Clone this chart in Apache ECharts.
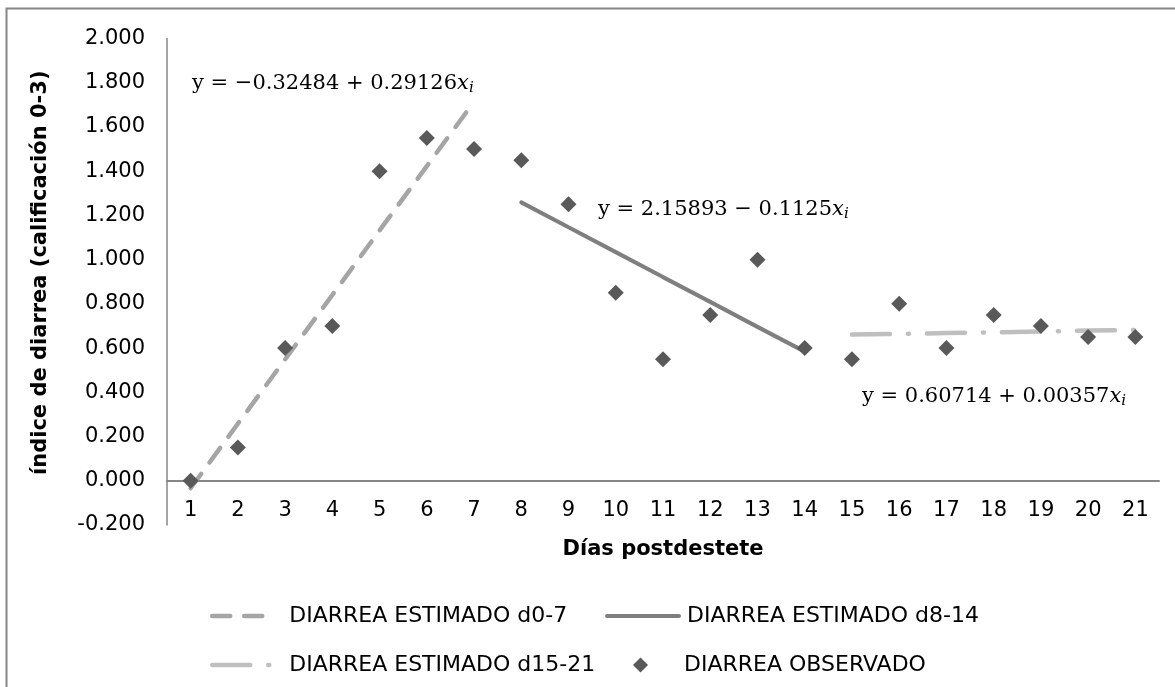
<!DOCTYPE html>
<html>
<head>
<meta charset="utf-8">
<script src="https://cdn.jsdelivr.net/npm/echarts@6/dist/echarts.min.js"></script>
<style>html,body{margin:0;padding:0;background:#fff;}#c{width:1175px;height:687px;}</style>
</head>
<body>
<div id="c"></div>
<script>
const days = ['1','2','3','4','5','6','7','8','9','10','11','12','13','14','15','16','17','18','19','20','21'];
const observado = [0.00,0.15,0.60,0.70,1.40,1.55,1.50,1.45,1.25,0.85,0.55,0.75,1.00,0.60,0.55,0.80,0.60,0.75,0.70,0.65,0.65];
const estD0_7 = [-0.034,0.258,0.549,0.840,1.132,1.423,1.714,null,null,null,null,null,null,null,null,null,null,null,null,null,null];
const estD8_14 = [null,null,null,null,null,null,null,1.259,1.146,1.034,0.921,0.809,0.696,0.584,null,null,null,null,null,null,null];
const estD15_21 = [null,null,null,null,null,null,null,null,null,null,null,null,null,null,0.661,0.664,0.668,0.671,0.675,0.679,0.682];
const yTicks = {min:-0.2, max:2.0, interval:0.2};
const names = ['DIARREA ESTIMADO d0-7','DIARREA ESTIMADO d8-14','DIARREA ESTIMADO d15-21','DIARREA OBSERVADO'];
const eqs = ['y = −0.32484 + 0.29126','y = 2.15893 − 0.1125','y = 0.60714 + 0.00357'];

const F = 'DejaVu Sans';
const chart = echarts.init(document.getElementById('c'), null, {renderer:'canvas'});
const legendText = {fontFamily:F, fontSize:22, color:'#000', lineHeight:24};
const legendLine = {width:'inherit', type:'inherit', cap:'round', opacity:1};
function eqText(t){
  return {
    text: '{a|' + t + '}{x|x}{s|i}',
    rich: {
      a:{fontFamily:'DejaVu Serif', fontSize:21, color:'#000', lineHeight:26},
      x:{fontFamily:'DejaVu Serif', fontSize:21, fontStyle:'italic', color:'#000', lineHeight:26},
      s:{fontFamily:'DejaVu Serif', fontSize:15, fontStyle:'italic', color:'#000', lineHeight:26, padding:[10,0,0,0]}
    },
    verticalAlign:'middle'
  };
}
chart.setOption({
  animation:false,
  backgroundColor:'#fff',
  grid:{left:167, right:16, top:38.5, bottom:162, containLabel:false},
  xAxis:{
    type:'category', data:days, boundaryGap:true,
    axisLine:{onZero:true, lineStyle:{color:'#868686', width:2}},
    axisTick:{show:false},
    axisLabel:{fontFamily:F, fontSize:21, color:'#000', margin:-25, interval:0},
    splitLine:{show:false},
    name:'Días postdestete', nameLocation:'middle', nameGap:14,
    nameTextStyle:{fontFamily:F, fontSize:21, fontWeight:'bold', color:'#000'}
  },
  yAxis:{
    type:'value', min:yTicks.min, max:yTicks.max, interval:yTicks.interval,
    axisLine:{show:true, lineStyle:{color:'#868686', width:1.5}},
    axisTick:{show:false},
    splitLine:{show:false},
    axisLabel:{fontFamily:F, fontSize:21, color:'#000', margin:22, formatter:v=>v.toFixed(3)},
    name:'índice de diarrea (calificación 0-3)', nameLocation:'middle', nameGap:116,
    nameTextStyle:{fontFamily:F, fontSize:21, fontWeight:'bold', color:'#000', padding:[0,0,0,18]}
  },
  legend:[
    {data:[names[0]], left:210, top:604, padding:0, itemWidth:55, itemHeight:14, lineStyle:legendLine, itemStyle:{opacity:0}, textStyle:Object.assign({padding:[0,0,0,17]},legendText)},
    {data:[names[1]], left:605, top:604, padding:0, itemWidth:72, itemHeight:14, lineStyle:legendLine, itemStyle:{opacity:0}, textStyle:Object.assign({padding:[0,0,0,3]},legendText)},
    {data:[names[2]], left:210, top:653, padding:0, itemWidth:60, itemHeight:14, lineStyle:legendLine, itemStyle:{opacity:0}, textStyle:Object.assign({padding:[0,0,0,12]},legendText)},
    {data:[{name:names[3], icon:'diamond'}], left:633, top:653, padding:0, itemWidth:15, itemHeight:15, itemStyle:{opacity:1}, textStyle:Object.assign({padding:[0,0,0,31]},legendText)}
  ],
  series:[
    {name:names[0], type:'line', data:estD0_7, symbol:'none', connectNulls:false,
     lineStyle:{color:'#a5a5a5', width:4.5, type:[18,14], cap:'round'}, itemStyle:{color:'#a5a5a5'}, z:2},
    {name:names[1], type:'line', data:estD8_14, symbol:'none',
     lineStyle:{color:'#7f7f7f', width:4, type:'solid', cap:'round'}, itemStyle:{color:'#7f7f7f'}, z:2},
    {name:names[2], type:'line', data:estD15_21, symbol:'none',
     lineStyle:{color:'#bfbfbf', width:4.5, type:[38,18,1,18], cap:'round'}, itemStyle:{color:'#bfbfbf'}, z:2},
    {name:names[3], type:'scatter', data:observado, symbol:'diamond', symbolSize:16,
     itemStyle:{color:'#595959', opacity:1}, z:3}
  ],
  graphic:[
    {type:'rect', shape:{x:6.5, y:8.5, width:1300, height:800}, style:{fill:'none', stroke:'#868686', lineWidth:2}, silent:true, z:-1},
    {type:'text', left:192, top:71, style:eqText(eqs[0])},
    {type:'text', left:598, top:197, style:eqText(eqs[1])},
    {type:'text', left:862, top:384, style:eqText(eqs[2])}
  ]
});
</script>
</body>
</html>
